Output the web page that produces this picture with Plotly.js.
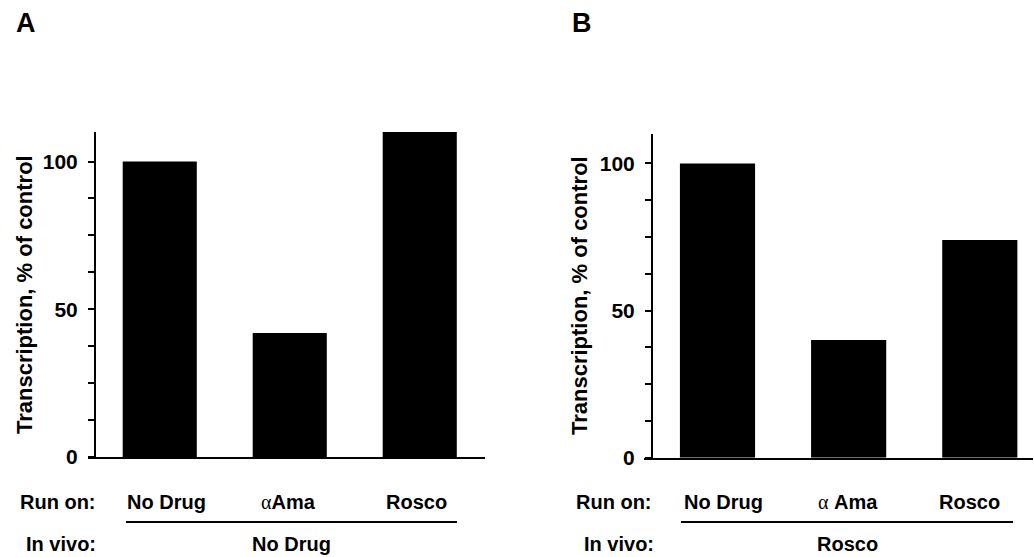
<!DOCTYPE html>
<html>
<head>
<meta charset="utf-8">
<script src="https://cdn.plot.ly/plotly-3.0.1.min.js"></script>
<style>html,body{margin:0;padding:0;background:#fff;}#chart{width:1034px;height:557px;}</style>
</head>
<body>
<div id="chart"></div>
<script>
// ---- data ----
var categories = ["No Drug", "αAma", "Rosco"];
var categoryLabelsA = ["No Drug", "<span style=\"font-family:'Liberation Serif';font-weight:normal\">α</span>Ama", "Rosco"];
var categoryLabelsB = ["No Drug", "<span style=\"font-family:'Liberation Serif';font-weight:normal\">α</span> Ama", "Rosco"];
var valuesA = [100, 42, 110];
var valuesB = [100, 40, 74];
var yTickVals = [0, 12.5, 25, 37.5, 50, 62.5, 75, 87.5, 100];
var yTickText = ["0", "", "", "", "50", "", "", "", "100"];
var panelLetters = ["A", "B"];
var rowLabels = ["Run on:", "In vivo:"];
var inVivoA = "No Drug";
var inVivoB = "Rosco";
var yTitle = "Transcription, % of control";

// ---- layout helpers ----
var W = 1034, H = 557;
function px(x) { return x / W; }
function py(y) { return 1 - y / H; }
var FONT = "Liberation Sans, Arial, Helvetica, sans-serif";

var traces = [
  {type: "bar", x: categories, y: valuesA, xaxis: "x", yaxis: "y", width: 0.57,
   marker: {color: "#000", line: {width: 0}}, hoverinfo: "skip"},
  {type: "bar", x: categories, y: valuesB, xaxis: "x2", yaxis: "y2", width: 0.573,
   marker: {color: "#000", line: {width: 0}}, hoverinfo: "skip"}
];

function xAx(d0, d1, r0, r1) {
  return {domain: [px(d0), px(d1)], range: [r0, r1], type: "category",
    showticklabels: false, ticks: "", showgrid: false, zeroline: false,
    showline: true, linecolor: "#000", linewidth: 2, fixedrange: true};
}
function yAx(d0, d1, pos) {
  return {domain: [py(d0), py(d1)], range: [0, 110], anchor: "free", position: px(pos),
    tickmode: "array", tickvals: yTickVals, ticktext: yTickText,
    ticks: "outside", ticklen: 6, tickwidth: 2, tickcolor: "#000",
    showline: true, linecolor: "#000", linewidth: 2,
    showgrid: false, zeroline: false, ticklabelstandoff: 6,
    tickfont: {family: FONT, size: 21, color: "#000", weight: "bold"}, fixedrange: true};
}

var xa = xAx(88, 485, -0.552, 2.502); xa.anchor = "y";
var ya = yAx(457, 132, 95);
var xb = xAx(644, 1033, -0.5604, 2.4057); xb.anchor = "y2";
var yb = yAx(457.7, 134, 652);

var ann = [];
function addText(text, x, y, size, xanchor, extra) {
  var a = {text: text, xref: "paper", yref: "paper", x: px(x), y: py(y),
    xanchor: xanchor || "center", yanchor: "middle", showarrow: false,
    font: {family: FONT, size: size, color: "#000", weight: "bold"}};
  if (extra) for (var k in extra) a[k] = extra[k];
  ann.push(a);
}
// panel letters
addText(panelLetters[0], 14, 23, 27, "left");
addText(panelLetters[1], 570, 23, 27, "left");
// y titles
addText(yTitle, 24, 295, 22, "center", {textangle: -90});
addText(yTitle, 579, 296, 22, "center", {textangle: -90});
// row labels
var rowY = 502, inY = 544;
addText(rowLabels[0], 98, rowY, 20, "right");
addText(rowLabels[1], 98, inY, 20, "right");
addText(rowLabels[0], 654, rowY, 20, "right");
addText(rowLabels[1], 656, inY, 20, "right");
// category labels
var catXA = [166.5, 288.5, 416];
var catXB = [723, 847.5, 969];
for (var i = 0; i < categories.length; i++) {
  addText(categoryLabelsA[i], catXA[i], rowY, 20, "center");
  addText(categoryLabelsB[i], catXB[i], rowY, 20, "center");
}
addText(inVivoA, 291, inY, 20, "center");
addText(inVivoB, 847.5, inY, 20, "center");

var shapes = [
  {type: "line", xref: "paper", yref: "paper", x0: px(126), x1: px(457), y0: py(522), y1: py(522),
   line: {color: "#000", width: 2}},
  {type: "line", xref: "paper", yref: "paper", x0: px(681), x1: px(1013), y0: py(522), y1: py(522),
   line: {color: "#000", width: 2}}
];

var layout = {
  width: W, height: H, margin: {l: 0, r: 0, t: 0, b: 0, pad: 0},
  paper_bgcolor: "#fff", plot_bgcolor: "rgba(0,0,0,0)",
  showlegend: false, bargap: 0.43,
  xaxis: xa, yaxis: ya, xaxis2: xb, yaxis2: yb,
  annotations: ann, shapes: shapes,
  font: {family: FONT, color: "#000"}
};

Plotly.newPlot("chart", traces, layout, {staticPlot: true, displayModeBar: false});
</script>
</body>
</html>
